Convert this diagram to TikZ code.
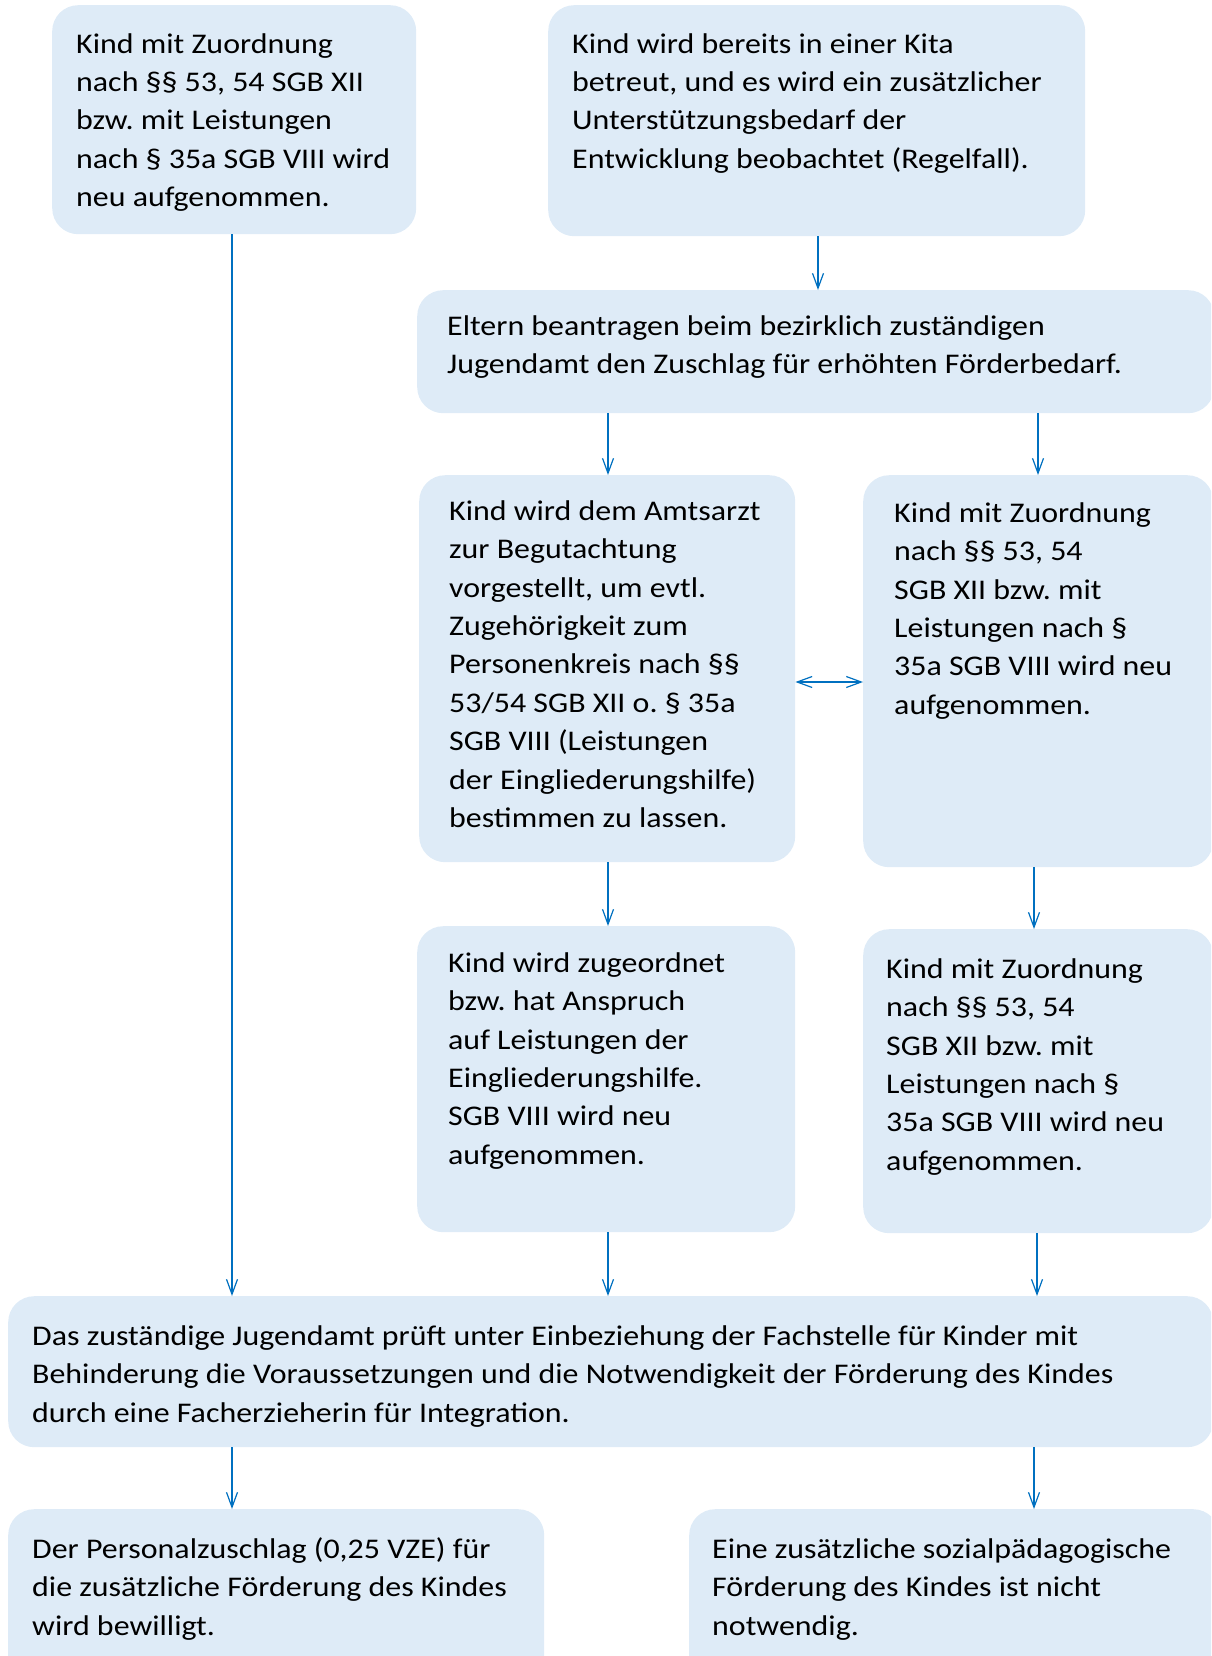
\documentclass[tikz,border=0pt]{standalone}
\usepackage{fontspec}
\setmainfont{Carlito}[FakeStretch=1.12]
\usetikzlibrary{arrows.meta}
\frenchspacing
\definecolor{boxfill}{RGB}{222,235,247}
\definecolor{arrowblue}{RGB}{0,112,192}
% #1 width, #2 height, #3 left pad, #4 first baseline from top, #5 text
\newcommand\bt[5]{\parbox[t][#2pt][t]{#1pt}{\frenchspacing\parindent=0pt\parskip=0pt\leftskip=#3pt\rightskip=-300pt plus 1fil\vspace*{\dimexpr#4pt-38.4pt\relax}\hbox{}#5}}
\tikzset{
  box/.style={fill=boxfill, rounded corners=26pt, inner sep=0pt, anchor=north west},
  arr/.style={draw=arrowblue, line width=1.2pt, -{Straight Barb[length=15pt,width=11pt]}},
  darr/.style={draw=arrowblue, line width=1.2pt, {Straight Barb[length=15pt,width=11pt]}-{Straight Barb[length=15pt,width=11pt]}}
}
\begin{document}
\begin{tikzpicture}[x=1pt,y=-1pt,font=\fontsize{28.5}{38.4}\selectfont]
\useasboundingbox (0,0) rectangle (1211,1656);
\clip (0,0) rectangle (1211,1656);
\node[box] (A) at (52,5) {\bt{364}{229}{24}{48}{Kind mit Zuordnung\\nach §§ 53, 54 SGB XII\\bzw. mit Leistungen\\nach § 35a SGB VIII wird\\neu aufgenommen.}};
\node[box] (B) at (548,5) {\bt{537}{231}{24}{48}{Kind wird bereits in einer Kita\\betreut, und es wird ein zusätzlicher\\Unterstützungsbedarf der\\Entwicklung beobachtet (Regelfall).}};
\node[box] (C) at (417,290) {\bt{797}{123}{30}{45}{Eltern beantragen beim bezirklich zuständigen\\Jugendamt den Zuschlag für erhöhten Förderbedarf.}};
\node[box] (D) at (419,475) {\bt{376}{387}{30}{45}{Kind wird dem Amtsarzt\\zur Begutachtung\\vorgestellt, um evtl.\\Zugehörigkeit zum\\Personenkreis nach §§\\53/54 SGB XII o. § 35a\\SGB VIII (Leistungen\\der Eingliederungshilfe)\\bestimmen zu lassen.}};
\node[box] (E) at (863,475) {\bt{350}{392}{31}{47}{Kind mit Zuordnung\\nach §§ 53, 54\\SGB XII bzw. mit\\Leistungen nach §\\35a SGB VIII wird neu\\aufgenommen.}};
\node[box] (F) at (417,926) {\bt{378}{306}{31}{46}{Kind wird zugeordnet\\bzw. hat Anspruch\\auf Leistungen der\\Eingliederungshilfe.\\SGB VIII wird neu\\aufgenommen.}};
\node[box] (G) at (863,929) {\bt{350}{304}{23}{49}{Kind mit Zuordnung\\nach §§ 53, 54\\SGB XII bzw. mit\\Leistungen nach §\\35a SGB VIII wird neu\\aufgenommen.}};
\node[box] (H) at (8,1296) {\bt{1205}{151}{24}{49}{Das zuständige Jugendamt prüft unter Einbeziehung der Fachstelle für Kinder mit\\Behinderung die Voraussetzungen und die Notwendigkeit der Förderung des Kindes\\durch eine Facherzieherin für Integration.}};
\node[box] (I) at (8,1509) {\bt{536}{200}{24}{49}{Der Personalzuschlag (0,25 VZE) für\\die zusätzliche Förderung des Kindes\\wird bewilligt.}};
\node[box] (J) at (689,1509) {\bt{530}{200}{23}{49}{Eine zusätzliche sozialpädagogische\\Förderung des Kindes ist nicht\\notwendig.}};
% connector columns
\coordinate (xL) at (232,0);
\coordinate (xB) at (818,0);
\coordinate (xM) at (608,0);
\coordinate (xR1) at (1038,0);
\coordinate (xR2) at (1034,0);
\coordinate (xR3) at (1037,0);
\coordinate (yDE) at (0,682);
\draw[arr] (A.south -| xL) -- (H.north -| xL);
\draw[arr] (B.south -| xB) -- (C.north -| xB);
\draw[arr] (C.south -| xM) -- (D.north -| xM);
\draw[arr] (C.south -| xR1) -- (E.north -| xR1);
\draw[darr] (D.east |- yDE) -- (E.west |- yDE);
\draw[arr] (D.south -| xM) -- (F.north -| xM);
\draw[arr] (E.south -| xR2) -- (G.north -| xR2);
\draw[arr] (F.south -| xM) -- (H.north -| xM);
\draw[arr] (G.south -| xR3) -- (H.north -| xR3);
\draw[arr] (H.south -| xL) -- (I.north -| xL);
\draw[arr] (H.south -| xR2) -- (J.north -| xR2);
\end{tikzpicture}
\end{document}
